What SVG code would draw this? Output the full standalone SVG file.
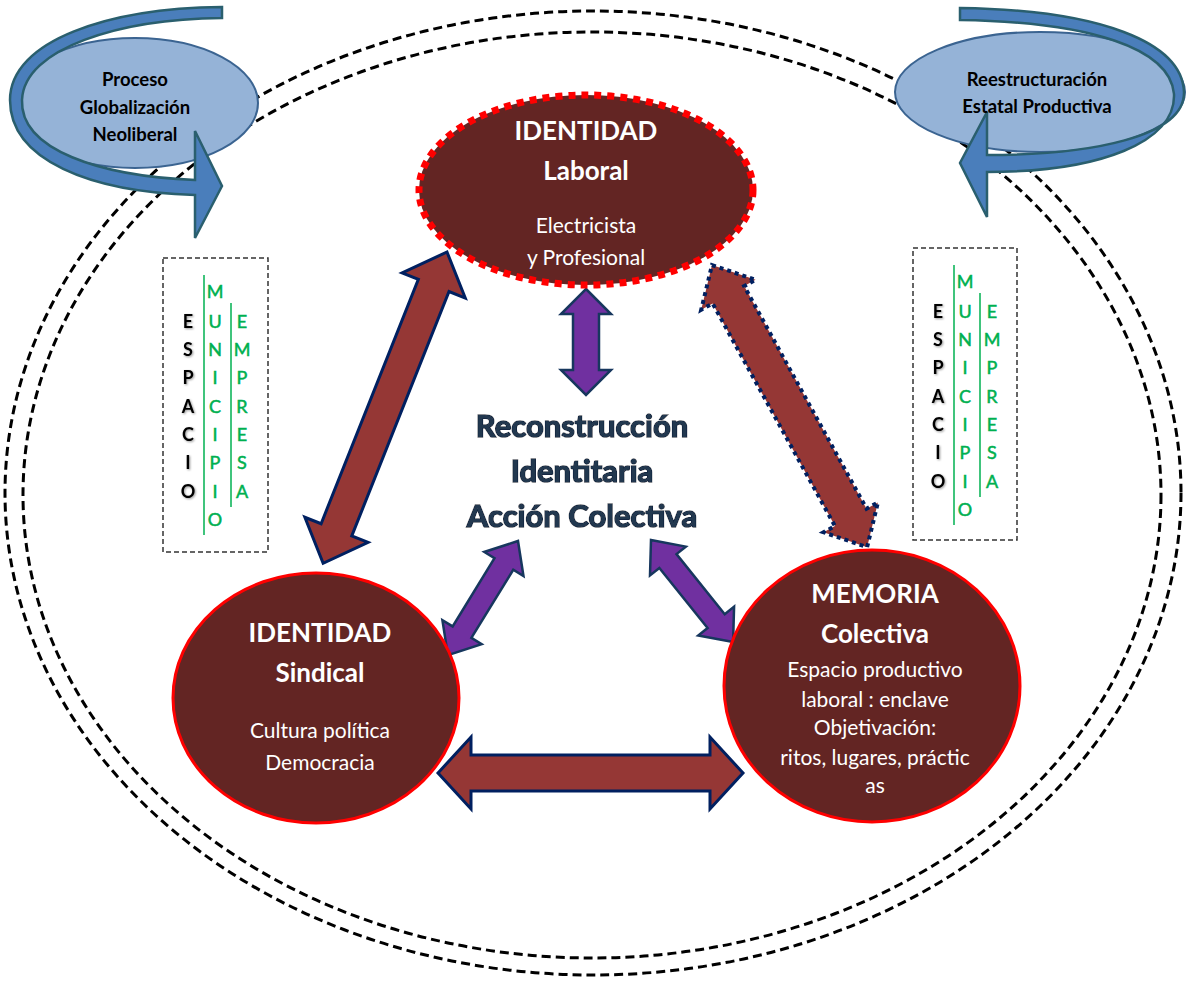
<svg xmlns="http://www.w3.org/2000/svg" width="1186" height="985" viewBox="0 0 1186 985">
<defs>
<style>
.dash{fill:none;stroke:#000;stroke-width:3;stroke-dasharray:9 5}
.box{fill:none;stroke:#333;stroke-width:1.5;stroke-dasharray:5 3}
.node{fill:#632523;stroke:#ff0000;stroke-width:3}
.blue{fill:#95b3d7;stroke:#3b6491;stroke-width:2}
.curv{fill:#4a7ebb;stroke:#2a5f6e;stroke-width:2.5;stroke-linejoin:miter}
.mar{fill:#953735;stroke:#002060;stroke-width:3;stroke-linejoin:miter}
.mard{fill:#953735;stroke:#002060;stroke-width:4;stroke-dasharray:4 4}
.pur{fill:#7030a0;stroke:#17375e;stroke-width:2.5;stroke-linejoin:miter}
.t{font-family:Lato,"Liberation Sans",sans-serif;text-anchor:middle}
.wb{fill:#fff;font-weight:bold;font-size:26px}
.wn{fill:#fff;font-size:21px}
.bk{fill:#000;font-weight:bold;font-size:18.5px}
.ctr{fill:#22374f;stroke:#0f243e;stroke-width:1.6;font-weight:bold;font-size:31px;paint-order:stroke}
.ltr{font-family:Lato,"Liberation Sans",sans-serif;text-anchor:middle;font-size:18px;font-weight:bold}
.e{fill:#000}
.g{fill:#00b050;stroke:#00b050;stroke-width:0.5;font-weight:normal}
.gl{stroke:#00b050;stroke-width:1.5}
</style>
<filter id="sh" x="-20%" y="-20%" width="140%" height="140%"><feDropShadow dx="1" dy="1" stdDeviation="1" flood-color="#000" flood-opacity="0.4"/></filter>
<filter id="glow" x="-10%" y="-20%" width="120%" height="140%"><feMorphology in="SourceAlpha" operator="dilate" radius="2" result="d"/><feGaussianBlur in="d" stdDeviation="2" result="b"/><feFlood flood-color="#ffffff"/><feComposite in2="b" operator="in" result="w"/><feMerge><feMergeNode in="w"/><feMergeNode in="SourceGraphic"/></feMerge></filter>
</defs>
<rect width="1186" height="985" fill="#fff"/>

<g id="frame">
<ellipse class="dash" cx="593" cy="493" rx="588" ry="482"/>
<ellipse class="dash" cx="592" cy="495" rx="569" ry="463"/>
</g>

<g id="proceso">
<ellipse class="blue" cx="135" cy="103" rx="123" ry="65"/>
<path class="curv" d="M222,7 L222,18 C120,19 24,48 22,100 C20,150 100,176 195,180 L195,131 L222,186 L195,238 L195,195 C90,192 10,160 10,100 C10,40 110,8 222,7 Z"/>
<text class="t bk" x="135" y="86">Proceso</text>
<text class="t bk" x="135" y="114">Globalización</text>
<text class="t bk" x="135" y="141">Neoliberal</text>
</g>

<g id="reestructuracion">
<ellipse class="blue" cx="1040" cy="92" rx="145" ry="60"/>
<path class="curv" d="M960,8 C1100,10 1182,42 1184,92 C1185,137 1090,155 987,155 L987,112 L960,163 L987,217 L987,172 C1100,172 1176,142 1174,94 C1170,48 1090,22 960,20 Z"/>
<text class="t bk" x="1037" y="86">Reestructuración</text>
<text class="t bk" x="1037" y="113">Estatal Productiva</text>
</g>

<g id="espacio-izq">
<rect class="box" x="163" y="258" width="105" height="294"/>
<line class="gl" x1="204" y1="275" x2="204" y2="535"/>
<line class="gl" x1="231" y1="303" x2="231" y2="507"/>
<g class="ltr" filter="url(#sh)">
<text class="e" x="188" y="328">E</text><text class="e" x="188" y="356">S</text><text class="e" x="188" y="384">P</text><text class="e" x="188" y="413">A</text><text class="e" x="188" y="441">C</text><text class="e" x="188" y="469">I</text><text class="e" x="188" y="498">O</text>
</g>
<g class="ltr">
<text class="g" x="215" y="298">M</text><text class="g" x="215" y="328">U</text><text class="g" x="215" y="356">N</text><text class="g" x="215" y="384">I</text><text class="g" x="215" y="413">C</text><text class="g" x="215" y="441">I</text><text class="g" x="215" y="469">P</text><text class="g" x="215" y="498">I</text><text class="g" x="215" y="526">O</text>
<text class="g" x="242" y="328">E</text><text class="g" x="242" y="356">M</text><text class="g" x="242" y="384">P</text><text class="g" x="242" y="413">R</text><text class="g" x="242" y="441">E</text><text class="g" x="242" y="469">S</text><text class="g" x="242" y="498">A</text>
</g>
</g>

<g id="espacio-der">
<rect class="box" x="913" y="248" width="104" height="292"/>
<line class="gl" x1="954" y1="265" x2="954" y2="525"/>
<line class="gl" x1="980" y1="293" x2="980" y2="497"/>
<g class="ltr" filter="url(#sh)">
<text class="e" x="938" y="318">E</text><text class="e" x="938" y="346">S</text><text class="e" x="938" y="374">P</text><text class="e" x="938" y="403">A</text><text class="e" x="938" y="431">C</text><text class="e" x="938" y="459">I</text><text class="e" x="938" y="488">O</text>
</g>
<g class="ltr">
<text class="g" x="965" y="288">M</text><text class="g" x="965" y="318">U</text><text class="g" x="965" y="346">N</text><text class="g" x="965" y="374">I</text><text class="g" x="965" y="403">C</text><text class="g" x="965" y="431">I</text><text class="g" x="965" y="459">P</text><text class="g" x="965" y="488">I</text><text class="g" x="965" y="516">O</text>
<text class="g" x="992" y="318">E</text><text class="g" x="992" y="346">M</text><text class="g" x="992" y="374">P</text><text class="g" x="992" y="403">R</text><text class="g" x="992" y="431">E</text><text class="g" x="992" y="459">S</text><text class="g" x="992" y="488">A</text>
</g>
</g>

<g id="connectors">
<polygon class="mar" transform="translate(447,252) rotate(111.7)" points="0,0 36,-34 36,-16.5 299,-16.5 299,-34 335,0 299,34 299,16.5 36,16.5 36,34"/>
<polygon class="mard" transform="translate(712,265) rotate(61.2)" points="0,0 34,-31 34,-18 288,-18 288,-31 322,0 288,31 288,18 34,18 34,31"/>
<polygon class="mar" transform="translate(438,773)" points="0,0 33,-36 33,-18 272,-18 272,-36 305,0 272,36 272,18 33,18 33,36"/>
<polygon class="pur" transform="translate(586,289) rotate(90)" points="0,0 25,-25 25,-13 81,-13 81,-25 106,0 81,25 81,13 25,13 25,25"/>
<polygon class="pur" transform="translate(518,541) rotate(121.55)" points="0,0 27,-23 27,-11 107,-11 107,-23 134,0 107,23 107,11 27,11 27,23"/>
<polygon class="pur" transform="translate(651,540) rotate(51.2)" points="0,0 27,-23 27,-11 104,-11 104,-23 131,0 104,23 104,11 27,11 27,23"/>
</g>

<g id="laboral">
<ellipse cx="586" cy="190" rx="167" ry="95" fill="#632523" stroke="#ff0000" stroke-width="7" stroke-dasharray="7 6"/>
<text class="t wb" x="586" y="140">IDENTIDAD</text>
<text class="t wb" x="586" y="180">Laboral</text>
<text class="t wn" x="586" y="233">Electricista</text>
<text class="t wn" x="586" y="265">y Profesional</text>
</g>

<g id="sindical">
<ellipse class="node" cx="316" cy="698" rx="143" ry="125"/>
<text class="t wb" x="320" y="642">IDENTIDAD</text>
<text class="t wb" x="320" y="682">Sindical</text>
<text class="t wn" x="320" y="738">Cultura política</text>
<text class="t wn" x="320" y="770">Democracia</text>
</g>

<g id="memoria">
<ellipse class="node" cx="872" cy="686" rx="148" ry="136"/>
<text class="t wb" x="875" y="603">MEMORIA</text>
<text class="t wb" x="875" y="643">Colectiva</text>
<text class="t wn" x="875" y="677" font-size="19.5">Espacio productivo</text>
<text class="t wn" x="875" y="707" font-size="19.5">laboral : enclave</text>
<text class="t wn" x="875" y="735" font-size="19.5">Objetivación:</text>
<text class="t wn" x="875" y="765" font-size="19.5">ritos, lugares, práctic</text>
<text class="t wn" x="875" y="793" font-size="19.5">as</text>
</g>

<g id="centro" filter="url(#glow)">
<text class="t ctr" x="582" y="437">Reconstrucción</text>
<text class="t ctr" x="582" y="482">Identitaria</text>
<text class="t ctr" x="582" y="527">Acción Colectiva</text>
</g>
</svg>
